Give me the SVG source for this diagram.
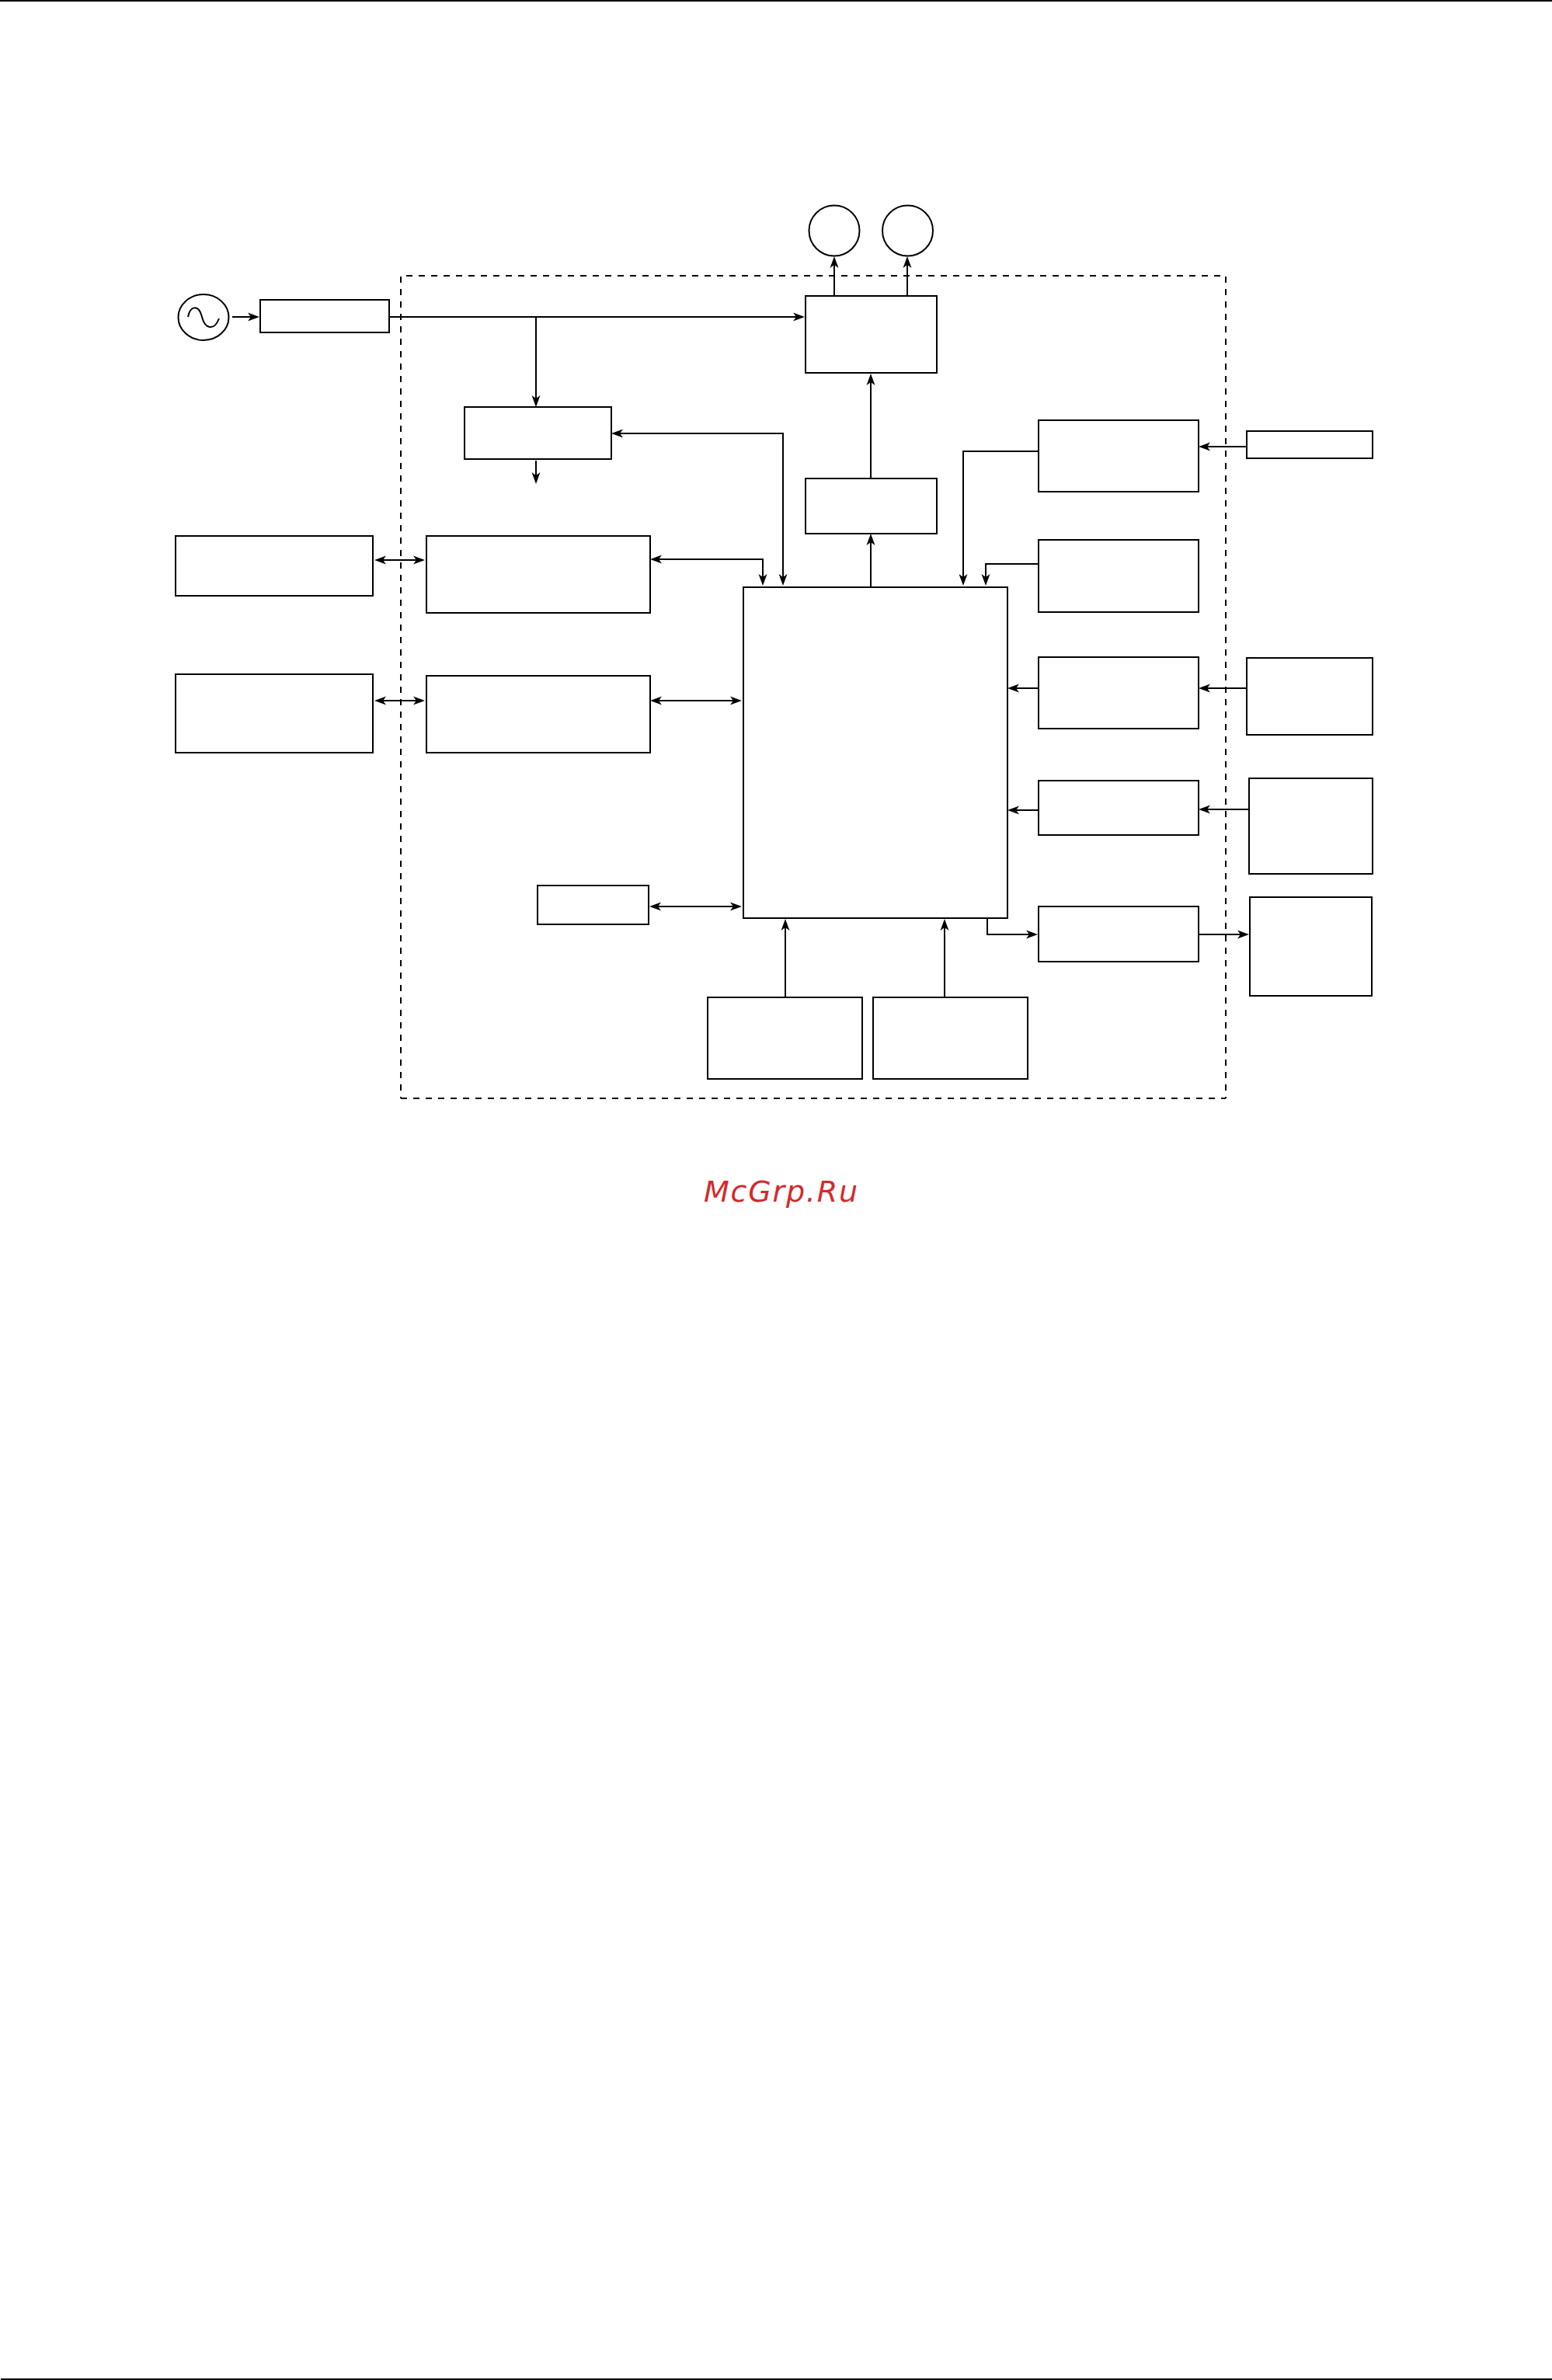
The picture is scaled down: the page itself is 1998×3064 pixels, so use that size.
<svg xmlns="http://www.w3.org/2000/svg" width="1998" height="3064" viewBox="0 0 1998 3064">
<style>
.n{fill:none;stroke:#000;stroke-width:2}
.c{fill:none;stroke:#000;stroke-width:2}
.a{marker-end:url(#ah)}
.b{marker-start:url(#ah);marker-end:url(#ah)}
.d{fill:none;stroke:#000;stroke-width:2;stroke-dasharray:8 8}
.w{font-family:"DejaVu Sans",sans-serif;font-style:italic;font-size:38px;letter-spacing:1.8px;fill:#d42a2a}
</style>
<defs>
<marker id="ah" markerUnits="userSpaceOnUse" markerWidth="16" markerHeight="12" viewBox="0 0 16 12" refX="11" refY="6" orient="auto-start-reverse">
<path d="M15,6 L0,0.500 L4,6 L0,11.500 Z" fill="#000"/>
</marker>
</defs>
<rect width="1998" height="3064" fill="#fff"/>
<g id="page-rules">
<rect x="0" y="0" width="1998" height="2" fill="#000"/>
<rect x="1" y="3062" width="1997" height="2" fill="#000"/>
</g>
<g id="boundary">
<path class="d" d="M523,355H1571"/>
<path class="d" d="M1578,356V1414"/>
<path class="d" d="M516,356V1414"/>
<path class="d" d="M516,1414H1578"/>
</g>
<g id="connectors">
<path class="c a" d="M299,408H330"/>
<path class="c a" d="M502,408H1032"/>
<path class="c a" d="M690,408V520"/>
<path class="c a" d="M690,593V619"/>
<path class="c b" d="M1008,750V558H791"/>
<path class="c b" d="M486,721H543"/>
<path class="c b" d="M841,720H982V750"/>
<path class="c b" d="M486,902H543"/>
<path class="c b" d="M841,902H951"/>
<path class="c b" d="M840,1167H951"/>
<path class="c a" d="M1074,381V334"/>
<path class="c a" d="M1168,381V334"/>
<path class="c a" d="M1121,616V485"/>
<path class="c a" d="M1121,756V691"/>
<path class="c a" d="M1337,581H1240V750"/>
<path class="c a" d="M1337,726H1269V750"/>
<path class="c a" d="M1605,575H1547"/>
<path class="c a" d="M1337,886H1301"/>
<path class="c a" d="M1605,886H1547"/>
<path class="c a" d="M1337,1043H1301"/>
<path class="c a" d="M1608,1042H1547"/>
<path class="c a" d="M1271,1182V1203H1332"/>
<path class="c a" d="M1544,1203H1604"/>
<path class="c a" d="M1011,1284V1187"/>
<path class="c a" d="M1216,1284V1187"/>
</g>
<g id="ac-source"><ellipse class="n" cx="262" cy="408.500" rx="32.500" ry="29.500"/><path class="n" d="M242,408C245,393 256,392 260,408C264,424 276,426 282,410"/></g>
<g id="input-box"><rect class="n" x="335" y="386" width="166" height="42"/></g>
<g id="box-top-left"><rect class="n" x="598" y="524" width="189" height="67"/></g>
<g id="ext-left-1"><rect class="n" x="226" y="690" width="254" height="77"/></g>
<g id="ctrl-left-1"><rect class="n" x="549" y="690" width="288" height="99"/></g>
<g id="ext-left-2"><rect class="n" x="226" y="868" width="254" height="101"/></g>
<g id="ctrl-left-2"><rect class="n" x="549" y="870" width="288" height="99"/></g>
<g id="small-box"><rect class="n" x="692" y="1140" width="143" height="50"/></g>
<g id="cpu"><rect class="n" x="957" y="756" width="340" height="426"/></g>
<g id="bottom-a"><rect class="n" x="911" y="1284" width="199" height="105"/></g>
<g id="bottom-b"><rect class="n" x="1124" y="1284" width="199" height="105"/></g>
<g id="output-circle-1"><ellipse class="n" cx="1074" cy="297" rx="32.500" ry="32.500"/></g>
<g id="output-circle-2"><ellipse class="n" cx="1168.500" cy="297" rx="32.500" ry="32.500"/></g>
<g id="driver"><rect class="n" x="1037" y="381" width="169" height="99"/></g>
<g id="predriver"><rect class="n" x="1037" y="616" width="169" height="71"/></g>
<g id="right-1"><rect class="n" x="1337" y="541" width="206" height="92"/></g>
<g id="right-2"><rect class="n" x="1337" y="695" width="206" height="93"/></g>
<g id="right-3"><rect class="n" x="1337" y="846" width="206" height="92"/></g>
<g id="right-4"><rect class="n" x="1337" y="1005" width="206" height="70"/></g>
<g id="right-5"><rect class="n" x="1337" y="1167" width="206" height="71"/></g>
<g id="ext-right-1"><rect class="n" x="1605" y="555" width="162" height="35"/></g>
<g id="ext-right-3"><rect class="n" x="1605" y="847" width="162" height="99"/></g>
<g id="ext-right-4"><rect class="n" x="1608" y="1002" width="159" height="123"/></g>
<g id="ext-right-5"><rect class="n" x="1609" y="1155" width="157" height="127"/></g>
<text class="w" x="906" y="1547">McGrp.Ru</text>
</svg>
